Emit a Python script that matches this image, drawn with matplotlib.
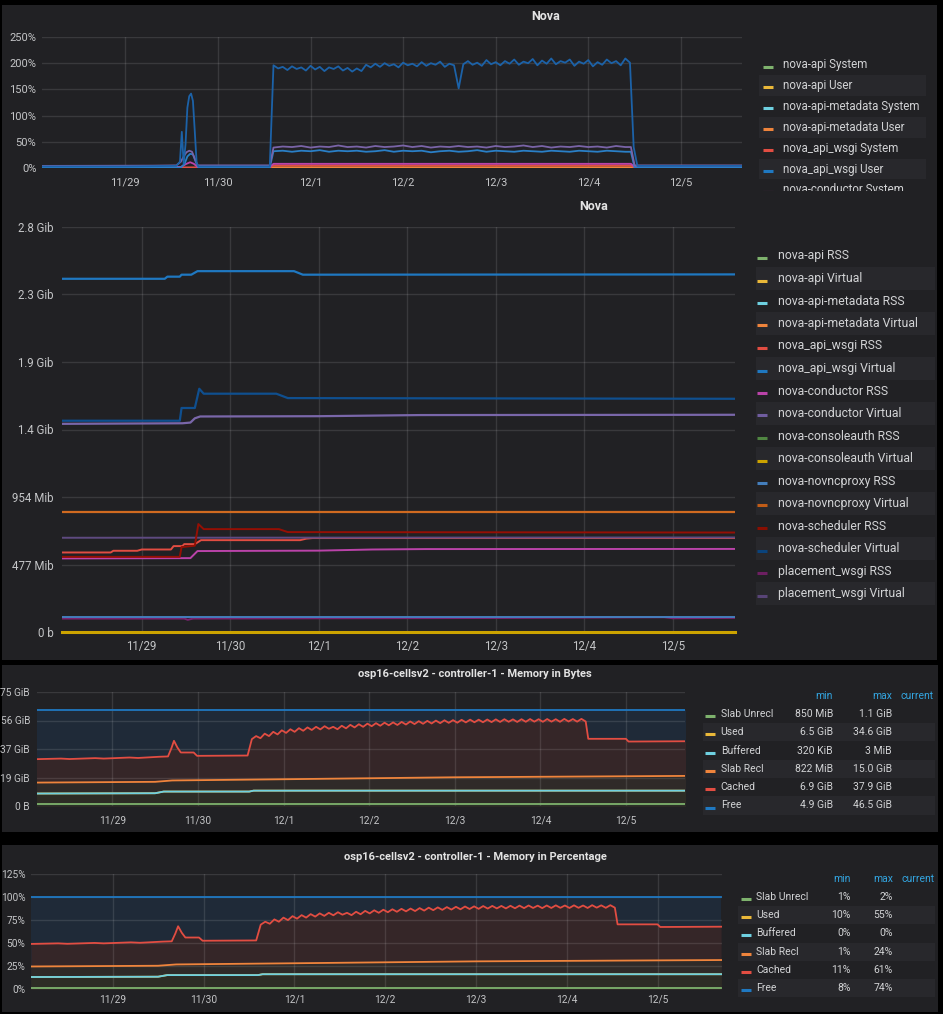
import numpy as np
import matplotlib
matplotlib.use("Agg")
import matplotlib.pyplot as plt
from matplotlib.patches import Rectangle
from matplotlib.lines import Line2D

plt.rcParams['font.family'] = ['Roboto', 'DejaVu Sans']

W, H = 943, 1014
BG = '#212124'
STRIPE = '#28282c'
TXT = '#c4c5c7'
LEG_TXT = '#d2d3d5'
HEAD = '#33a5e0'

# x axis: days since 11/29 00:00
day_ticks = [0, 1, 2, 3, 4, 5, 6]
day_labels = ['11/29', '11/30', '12/1', '12/2', '12/3', '12/4', '12/5']

# ---------------- panel 1: Nova CPU (%) ----------------
cpu_names = ['nova-api System', 'nova-api User', 'nova-api-metadata System',
             'nova-api-metadata User', 'nova_api_wsgi System', 'nova_api_wsgi User',
             'nova-conductor System']
cpu_colors = ['#7EB26D', '#EAB839', '#6ED0E0', '#EF843C', '#E24D42', '#1F78C1', '#BA43A9']

# big ~200% series
sched_pre_t = [-0.9, 0.0, 0.55, 0.59, 0.61, 0.63, 0.65, 0.67, 0.69, 0.71, 0.73, 0.75, 0.77, 0.79, 1.56]
sched_pre_v = [3, 3, 4, 12, 69, 8, 45, 115, 137, 142, 128, 70, 10, 3, 3]
sched_run_t = np.arange(1.60, 5.451, 0.05)
sched_run_v = [196, 190, 193, 187, 194, 189, 192, 186, 195, 188,
               193, 185, 192, 189, 194, 186, 191, 184, 190, 185,
               197, 192, 199, 193, 200, 195, 198, 192, 201, 196,
               199, 194, 202, 195, 200, 197, 203, 193, 199, 196,
               152, 198, 204, 197, 201, 195, 206, 198, 202, 196,
               204, 199, 207, 197, 203, 200, 208, 196, 205, 199,
               209, 198, 204, 201, 207, 195, 203, 199, 206, 194,
               202, 197, 207, 200, 204, 196, 209, 201]
sched_post_t = [5.49, 5.53, 6.7]
sched_post_v = [40, 4, 4]

run_t = np.arange(1.6, 5.41, 0.1)
cond_user_pre_t = [-0.9, 0.3, 0.55, 0.60, 0.63, 0.66, 0.69, 0.72, 0.75, 0.78, 1.56]
cond_user_pre_v = [4, 4.5, 5, 12, 22, 30, 33, 31, 18, 5, 5]
cond_user_run_v = [39, 41, 40, 42, 39, 41, 40, 43, 40, 41, 39, 42, 40, 41, 43, 40, 42, 39, 41, 40,
                   42, 40, 41, 39, 42, 40, 41, 43, 40, 42, 39, 41, 40, 42, 40, 41, 39, 42, 40]
cond_user_post_t = [5.46, 5.50, 6.7]
cond_user_post_v = [40, 5, 5]

wsgi_user_pre_t = [-0.9, 0.60, 0.64, 0.67, 0.70, 0.73, 0.76, 0.79, 1.56]
wsgi_user_pre_v = [1, 1, 8, 22, 27, 26, 12, 1, 1]
wsgi_user_run_v = [32, 33, 31, 33, 32, 34, 31, 33, 32, 33, 31, 32, 34, 31, 33, 32, 33, 30, 32, 33,
                   31, 32, 34, 31, 33, 32, 31, 33, 32, 31, 33, 32, 31, 33, 32, 31, 33, 32, 31]
wsgi_user_post_t = [5.46, 5.50, 6.7]
wsgi_user_post_v = [31, 1, 1]

cond_sys_t = [-0.9, 0.6, 0.66, 0.70, 0.74, 0.78, 1.56, 1.60, 5.46, 5.50, 6.7]
cond_sys_v = [2, 2, 8, 11, 8, 2, 2, 8, 8, 2, 2]
wsgi_sys_t = [-0.9, 1.56, 1.60, 5.46, 5.50, 6.7]
wsgi_sys_v = [1, 1, 5, 5, 1, 1]
meta_user_v = [0.5, 0.5, 1.5, 1.5, 0.5, 0.5]

# ---------------- panel 2: Nova memory (MiB) ----------------
mem_names = ['nova-api RSS', 'nova-api Virtual', 'nova-api-metadata RSS',
             'nova-api-metadata Virtual', 'nova_api_wsgi RSS', 'nova_api_wsgi Virtual',
             'nova-conductor RSS', 'nova-conductor Virtual', 'nova-consoleauth RSS',
             'nova-consoleauth Virtual', 'nova-novncproxy RSS', 'nova-novncproxy Virtual',
             'nova-scheduler RSS', 'nova-scheduler Virtual', 'placement_wsgi RSS',
             'placement_wsgi Virtual']
mem_colors = ['#7EB26D', '#EAB839', '#6ED0E0', '#EF843C', '#E24D42', '#1F78C1',
              '#BA43A9', '#705DA0', '#508642', '#CCA300', '#447EBC', '#C15C17',
              '#890F02', '#0A437C', '#6D1F62', '#584477']
mem_ticks = [0, 477, 954, 1431, 1908, 2385, 2862]
mem_ticklabels = ['0 b', '477 Mib', '954 Mib', '1.4 Gib', '1.9 Gib', '2.3 Gib', '2.8 Gib']

wsgi_virt_t = [-0.9, 0.26, 0.29, 0.43, 0.45, 0.56, 0.63, 1.72, 1.82, 6.7]
wsgi_virt_v = [2496, 2496, 2511, 2511, 2525, 2525, 2550, 2550, 2525, 2527]
sched_virt_t = [-0.9, 0.43, 0.45, 0.60, 0.65, 0.70, 1.52, 1.65, 6.7]
sched_virt_v = [1493, 1493, 1583, 1583, 1719, 1684, 1684, 1653, 1648]
cond_virt_t = [-0.9, 0.46, 0.55, 0.60, 0.66, 2.0, 3.15, 6.7]
cond_virt_v = [1471, 1475, 1480, 1510, 1523, 1525, 1533, 1535]
vnc_virt_t = [-0.9, 6.7]
vnc_virt_v = [846, 846]
sched_rss_t = [-0.9, 0.43, 0.45, 0.60, 0.64, 0.70, 1.55, 1.65, 6.7]
sched_rss_v = [531, 531, 600, 610, 763, 727, 727, 706, 703]
wsgi_rss_t = [-0.9, -0.35, -0.32, -0.05, 0.0, 0.33, 0.36, 0.46, 0.48, 0.60, 0.67, 1.79, 1.86, 1.93, 6.7]
wsgi_rss_v = [562, 562, 574, 574, 583, 583, 607, 607, 621, 621, 649, 649, 660, 664, 664]
place_virt_t = [-0.9, 3.0, 6.7]
place_virt_v = [666, 667, 668]
cond_rss_t = [-0.9, 0.55, 0.63, 2.0, 2.6, 3.2, 6.7]
cond_rss_v = [520, 522, 572, 575, 583, 586, 587]
vnc_rss_t = [-0.9, 6.7]
vnc_rss_v = [104, 104]
place_rss_t = [-0.9, 0.48, 0.52, 0.58, 2.0, 4.0, 5.9, 6.0, 6.7]
place_rss_v = [95, 95, 86, 95, 97, 99, 104, 97, 100]
consoleauth_virt_v = [0, 0]

# ---------------- panels 3/4: controller memory ----------------
ctl_names = ['Slab Unrecl', 'Used', 'Buffered', 'Slab Recl', 'Cached', 'Free']
ctl_colors = ['#7EB26D', '#EAB839', '#6ED0E0', '#EF843C', '#E24D42', '#1F78C1']
ctl_min_bytes = ['850 MiB', '6.5 GiB', '320 KiB', '822 MiB', '6.9 GiB', '4.9 GiB']
ctl_max_bytes = ['1.1 GiB', '34.6 GiB', '3 MiB', '15.0 GiB', '37.9 GiB', '46.5 GiB']
ctl_min_pct = ['1%', '10%', '0%', '1%', '11%', '8%']
ctl_max_pct = ['2%', '55%', '0%', '24%', '61%', '74%']
total_gib = 62.9

# stacked line levels in GiB
free_t = [-0.9, 6.7]
free_v = [62.9, 62.9]
cached_pre_t = [-0.9, -0.6, -0.5, -0.2, -0.1, 0.2, 0.3, 0.55, 0.65, 0.69, 0.72, 0.76, 0.80, 0.95, 0.99, 1.30, 1.58, 1.63]
cached_pre_v = [30.8, 31.2, 30.9, 31.5, 31.2, 31.9, 31.6, 32.4, 32.6, 38.0, 42.9, 38.5, 35.2, 35.2, 33.0, 33.1, 33.2, 44.0]
cached_peak_t = np.arange(1.68, 5.49, 0.1)
cached_peak_v = [46.0, 47.6, 48.8, 49.8, 50.5, 51.2, 51.7, 52.1, 52.5, 52.1,
                 52.8, 53.4, 53.8, 54.2, 54.5, 54.8, 55.0, 55.3, 55.6, 55.8,
                 56.0, 56.2, 56.4, 56.5, 56.7, 56.8, 56.8, 56.9, 57.0, 57.1,
                 57.0, 57.1, 57.2, 57.1, 57.2, 57.1, 57.3, 57.2, 57.3]
cached_trough_v = [44.6, 46.0, 47.1, 48.1, 48.8, 49.5, 50.0, 50.4, 50.8, 50.5,
                   51.1, 51.7, 52.1, 52.5, 52.8, 53.1, 53.3, 53.6, 53.9, 54.1,
                   54.3, 54.5, 54.7, 54.8, 55.0, 55.1, 55.1, 55.2, 55.3, 55.4,
                   55.3, 55.4, 55.5, 55.4, 55.5, 55.4, 55.6, 55.5, 55.6]
cached_post_t = [5.56, 6.00, 6.03, 6.7]
cached_post_v = [44.2, 44.2, 42.4, 42.6]
slab_t = [-0.9, 0.5, 0.7, 2.0, 4.0, 6.7]
slab_v = [15.4, 15.9, 16.8, 17.6, 18.9, 19.8]
buff_t = [-0.9, 0.5, 0.6, 1.6, 1.65, 6.7]
buff_v = [8.2, 8.4, 9.5, 9.5, 10.1, 10.1]
unrecl_t = [-0.9, 6.7]
unrecl_v = [1.0, 1.0]

fig = plt.figure(figsize=(W / 100, H / 100), dpi=100, facecolor='black')


def fx(x):
    return x / W


def fy(y):
    return 1 - y / H


def rect(x0, y0, x1, y1, color, z):
    fig.add_artist(Rectangle((fx(x0), fy(y1)), (x1 - x0) / W, (y1 - y0) / H,
                             transform=fig.transFigure, color=color, lw=0, zorder=z))


def make_ax(box, xlim, ylim, yticks, ylabels, fs, ypad, xpad, z):
    x0, y0, x1, y1 = box
    ax = fig.add_axes([fx(x0), fy(y1), (x1 - x0) / W, (y1 - y0) / H])
    ax.set_zorder(z)
    ax.set_facecolor('none')
    ax.set_xlim(*xlim)
    ax.set_ylim(*ylim)
    ax.set_xticks(day_ticks, day_labels)
    ax.set_yticks(yticks, ylabels)
    for s in ax.spines.values():
        s.set_visible(False)
    ax.tick_params(axis='both', length=0, labelsize=fs, labelcolor=TXT)
    ax.tick_params(axis='y', pad=ypad)
    ax.tick_params(axis='x', pad=xpad)
    ax.grid(True, color='white', alpha=0.11, lw=1)
    ax.set_axisbelow(False)
    return ax


def legend(names, colors, x_sw, x_txt, y0, dy, xs0, xs1, fs, z):
    for i, (n, c) in enumerate(zip(names, colors)):
        y = y0 + i * dy
        if i % 2 == 1:
            rect(xs0, y - dy / 2, xs1, y + dy / 2, STRIPE, z)
        fig.add_artist(Line2D([fx(x_sw - 5), fx(x_sw + 5)], [fy(y + 2)] * 2,
                              transform=fig.transFigure, color=c, lw=2.2,
                              solid_capstyle='butt', zorder=z + 1))
        fig.text(fx(x_txt), fy(y), n, color=LEG_TXT, fontsize=fs, va='center',
                 ha='left', zorder=z + 1)


def cat(*parts):
    return np.concatenate([np.asarray(p, dtype=float) for p in parts])


# ---------------- panel 1 ----------------
rect(2, 5, 937, 200, BG, 1)
fig.text(fx(546), fy(17), 'Nova', color='#e3e3e3', fontsize=9, fontweight='bold',
         ha='center', va='center', zorder=2)
ax1 = make_ax((42, 37, 742, 168), (-0.9, 6.66), (0, 250), [0, 50, 100, 150, 200, 250],
              ['0%', '50%', '100%', '150%', '200%', '250%'], 8, 4, 7, 3)
ax1.plot(wsgi_sys_t, meta_user_v, color='#EF843C', lw=1.3, zorder=3)
ax1.plot(wsgi_sys_t, wsgi_sys_v, color='#E24D42', lw=1.3, zorder=3)
ax1.plot(cond_sys_t, cond_sys_v, color='#BA43A9', lw=1.3, zorder=3)
ax1.plot(cat(wsgi_user_pre_t, run_t, wsgi_user_post_t),
         cat(wsgi_user_pre_v, wsgi_user_run_v, wsgi_user_post_v), color='#2a7fc6', lw=1.3, zorder=3)
ax1.plot(cat(cond_user_pre_t, run_t, cond_user_post_t),
         cat(cond_user_pre_v, cond_user_run_v, cond_user_post_v), color='#7a64a8', lw=1.3, zorder=3)
ax1.plot(cat(sched_pre_t, sched_run_t, sched_post_t),
         cat(sched_pre_v, sched_run_v, sched_post_v), color='#1c62a8', lw=1.3, zorder=3)
legend(cpu_names, cpu_colors, 768, 783, 64.5, 20.9, 759, 926, 8.3, 4)

# ---------------- panel 2 ----------------
rect(2, 191, 937, 660, BG, 10)
fig.text(fx(594), fy(206), 'Nova', color='#e3e3e3', fontsize=9, fontweight='bold',
         ha='center', va='center', zorder=11)
ax2 = make_ax((62, 227, 735, 632), (-0.9, 6.70), (0, 2862), mem_ticks, mem_ticklabels,
              8.3, 6, 6, 12)
ax2.plot(place_rss_t, place_rss_v, color='#7a2370', lw=1.4, zorder=3)
ax2.plot(vnc_rss_t, vnc_rss_v, color='#447EBC', lw=1.4, zorder=3)
ax2.plot(wsgi_rss_t, wsgi_rss_v, color='#E24D42', lw=1.4, zorder=3)
ax2.plot(place_virt_t, place_virt_v, color='#5e4a80', lw=1.4, zorder=3)
ax2.plot(cond_rss_t, cond_rss_v, color='#BA43A9', lw=1.4, zorder=3)
ax2.plot(sched_rss_t, sched_rss_v, color='#950f04', lw=1.4, zorder=3)
ax2.plot(vnc_virt_t, vnc_virt_v, color='#d06a20', lw=1.6, zorder=3)
ax2.plot(cond_virt_t, cond_virt_v, color='#7a67aa', lw=1.6, zorder=3)
ax2.plot(sched_virt_t, sched_virt_v, color='#0f4f8f', lw=1.6, zorder=3)
ax2.plot(wsgi_virt_t, wsgi_virt_v, color='#1F78C1', lw=1.6, zorder=3)
ax2.plot(vnc_virt_t, consoleauth_virt_v, color='#CCA300', lw=2.2, zorder=4, clip_on=False)
legend(mem_names, mem_colors, 762, 777.5, 256, 22.5, 756, 935, 8.8, 13)


# ---------------- panels 3 and 4 ----------------
def mem_panel(ax, scale):
    cached_t = cat(cached_pre_t, np.column_stack([cached_peak_t, cached_peak_t + 0.05]).ravel(),
                   cached_post_t)
    cached_v = cat(cached_pre_v, np.column_stack([cached_peak_v, cached_trough_v]).ravel(),
                   cached_post_v)
    layers = [
        (free_t, free_v, '#1F78C1', '#1f2a38'),
        (cached_t, cached_v, '#E24D42', '#352628'),
        (slab_t, slab_v, '#EF843C', '#2f2a28'),
        (buff_t, buff_v, '#6ED0E0', '#2d2c25'),
        (unrecl_t, unrecl_v, '#7EB26D', '#262a24'),
    ]
    for t, v, _, fillc in layers:
        ax.fill_between(t, 0, np.asarray(v) * scale, color=fillc, lw=0, zorder=1)
    ax.plot(buff_t, np.asarray(buff_v) * scale, color='#EAB839', lw=1.3, zorder=3)
    for t, v, linec, _ in layers:
        ax.plot(t, np.asarray(v) * scale, color=linec, lw=1.3, zorder=3)


def ctl_legend(x_sw, x_txt, y_head, y0, dy, xs0, x_min, x_max, x_cur, mins, maxs, fs, z):
    legend(ctl_names, ctl_colors, x_sw, x_txt, y0, dy, xs0, 935, fs, z)
    for lab, x in (('min', x_min), ('max', x_max), ('current', x_cur)):
        fig.text(fx(x), fy(y_head), lab, color=HEAD, fontsize=fs, ha='right', va='center', zorder=z + 1)
    for i in range(len(ctl_names)):
        y = y0 + i * dy
        fig.text(fx(x_min), fy(y), mins[i], color=LEG_TXT, fontsize=fs, ha='right', va='center', zorder=z + 1)
        fig.text(fx(x_max), fy(y), maxs[i], color=LEG_TXT, fontsize=fs, ha='right', va='center', zorder=z + 1)


rect(2, 665, 938, 832, BG, 20)
fig.text(fx(475), fy(674), 'osp16-cellsv2 - controller-1 - Memory in Bytes', color='#e3e3e3',
         fontsize=8, fontweight='bold', ha='center', va='center', zorder=21)
ax3 = make_ax((37, 692, 685, 806), (-0.88, 6.69), (0, 75), [0, 18.75, 37.5, 56.25, 75],
              ['0 B', '19 GiB', '37 GiB', '56 GiB', '75 GiB'], 7.3, 5, 7, 22)
mem_panel(ax3, 1.0)
ctl_legend(709.5, 720.7, 696, 714, 18.3, 703, 833, 892, 934, ctl_min_bytes, ctl_max_bytes, 7.5, 23)

rect(2, 845, 938, 1012, BG, 30)
fig.text(fx(475), fy(857), 'osp16-cellsv2 - controller-1 - Memory in Percentage', color='#e3e3e3',
         fontsize=8, fontweight='bold', ha='center', va='center', zorder=31)
ax4 = make_ax((31, 874, 722, 989), (-0.90, 6.71), (0, 125), [0, 25, 50, 75, 100, 125],
              ['0%', '25%', '50%', '75%', '100%', '125%'], 7.3, 4, 4, 32)
mem_panel(ax4, 100.0 / total_gib)
ctl_legend(745.6, 756.5, 879, 897, 18.2, 738, 851, 893, 935, ctl_min_pct, ctl_max_pct, 7.5, 33)

fig.savefig('out.png', dpi=100, facecolor='black')
